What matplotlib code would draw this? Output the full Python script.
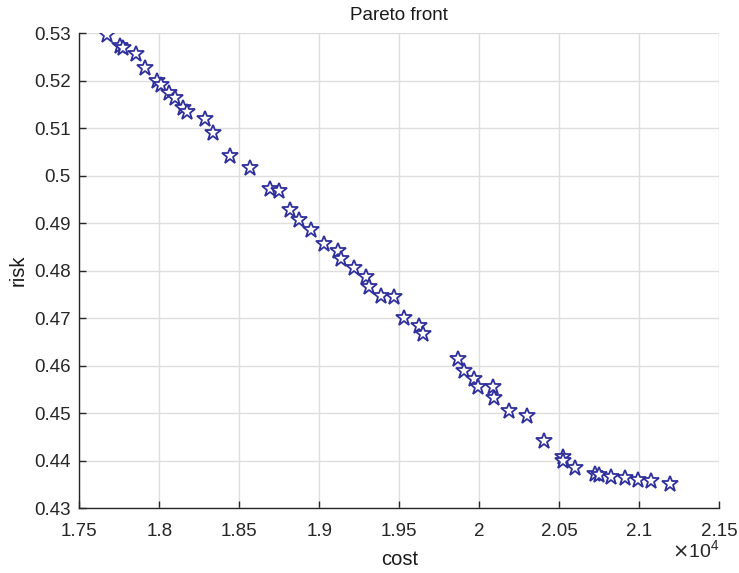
import numpy as np
import matplotlib
matplotlib.use('Agg')
import matplotlib.pyplot as plt

plt.rcParams['font.family'] = ['Liberation Sans', 'DejaVu Sans']

# Pareto front points (cost in units of 1e4, risk)
cost = [1.7673, 1.7755, 1.7774, 1.7855, 1.7911, 1.7986, 1.8011, 1.8061, 1.8098, 1.8148,
        1.8173, 1.8286, 1.8336, 1.8442, 1.8567, 1.8692, 1.8748, 1.8817, 1.8873, 1.8948,
        1.9029, 1.9117, 1.9136, 1.9217, 1.9292, 1.9311, 1.9386, 1.9467, 1.9529, 1.9623,
        1.9648, 1.9867, 1.9904, 1.9967, 1.9992, 2.0085, 2.0092, 2.0185, 2.0298, 2.0404,
        2.0523, 2.0523, 2.0598, 2.0723, 2.0748, 2.0823, 2.0910, 2.0992, 2.1073, 2.1192]
risk = [0.5296, 0.5273, 0.5268, 0.5256, 0.5226, 0.5200, 0.5191, 0.5174, 0.5163, 0.5142,
        0.5133, 0.5118, 0.5090, 0.5041, 0.5016, 0.4972, 0.4967, 0.4928, 0.4906, 0.4885,
        0.4855, 0.4842, 0.4824, 0.4805, 0.4786, 0.4765, 0.4746, 0.4744, 0.4701, 0.4684,
        0.4666, 0.4614, 0.4588, 0.4571, 0.4555, 0.4554, 0.4531, 0.4504, 0.4494, 0.4442,
        0.4408, 0.4399, 0.4385, 0.4372, 0.4370, 0.4366, 0.4363, 0.4359, 0.4356, 0.4350]

xticks = [1.75, 1.8, 1.85, 1.9, 1.95, 2.0, 2.05, 2.1, 2.15]
xticklabels = ['1.75', '1.8', '1.85', '1.9', '1.95', '2', '2.05', '2.1', '2.15']
yticks = [0.43, 0.44, 0.45, 0.46, 0.47, 0.48, 0.49, 0.5, 0.51, 0.52, 0.53]
yticklabels = ['0.43', '0.44', '0.45', '0.46', '0.47', '0.48', '0.49', '0.5', '0.51', '0.52', '0.53']

fig = plt.figure(figsize=(7.39, 5.73), dpi=100)
ax = fig.add_axes([0.1073, 0.1134, 0.8660, 0.8290])

ax.plot(cost, risk, linestyle='none', marker='*', markersize=12,
        markerfacecolor='white', markeredgecolor='#30309c', markeredgewidth=1.3, zorder=3)

ax.set_xlim(1.75, 2.15)
ax.set_ylim(0.43, 0.53)
ax.set_xticks(xticks)
ax.set_xticklabels(xticklabels)
ax.set_yticks(yticks)
ax.set_yticklabels(yticklabels)
ax.grid(True, color='#dedede', linewidth=1)
ax.set_axisbelow(True)

ax.spines['top'].set_visible(False)
ax.spines['right'].set_visible(False)
for s in ['left', 'bottom']:
    ax.spines[s].set_color('#262626')
    ax.spines[s].set_linewidth(1)
ax.tick_params(direction='in', length=5, width=1, colors='#262626', labelsize=13.5)
ax.tick_params(axis='x', pad=11)
ax.tick_params(axis='y', pad=6)

ax.set_title('Pareto front', fontsize=13.5, color='#1a1a1a', pad=9.5)
ax.set_xlabel('cost', fontsize=14.5, color='#1a1a1a', labelpad=7)
ax.set_ylabel('risk', fontsize=14.5, color='#1a1a1a', labelpad=5)
fig.text(0.9733, 0.040, r'$\times\mathregular{10^{4}}$', ha='right', va='center',
         fontsize=14, color='#262626')

fig.savefig('out.png', dpi=100)
